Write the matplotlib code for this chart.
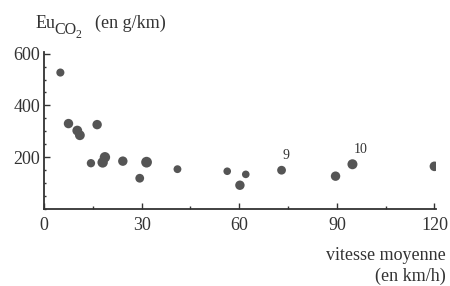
import matplotlib.pyplot as plt
from matplotlib.ticker import MultipleLocator

# --- Data ---
vitesse = [5, 7.5, 10.2, 11, 16.3, 14.4, 18, 18.7, 24.2, 31.5, 29.4, 41,
           56.3, 60.2, 62, 73, 89.6, 94.8, 120]
emission = [527, 330, 303, 285, 326, 177, 180, 200, 185, 181, 119, 154,
            146, 92, 134, 150, 127, 173, 165]
tailles = [34, 46, 50, 50, 46, 36, 56, 56, 46, 60, 40, 32,
           30, 46, 30, 40, 46, 52, 48]
etiquettes = {"9": (73, 150), "10": (94.8, 173)}

GRIS = "#555555"
TEXTE = "#333333"
FS = 13
W, H = 450, 286


def px(x, y):
    # pixel coords (origin top-left) -> figure fraction
    return x / W, 1 - y / H


plt.rcParams['font.family'] = ['Liberation Serif', 'DejaVu Serif']

fig = plt.figure(figsize=(4.5, 2.86), dpi=100)
ax = fig.add_axes([0.098, 0.269, 0.871, 0.548])

ax.scatter(vitesse, emission, s=tailles, color=GRIS, edgecolors='none', zorder=3)
for txt, (x, y) in etiquettes.items():
    ax.annotate(txt, (x, y), xytext=(1, 6), textcoords='offset points',
                fontsize=10, color=TEXTE, ha='left', va='bottom')

ax.set_xlim(0, 120.5)
ax.set_ylim(0, 605)
ax.xaxis.set_major_locator(MultipleLocator(30))
ax.xaxis.set_minor_locator(MultipleLocator(15))
ax.yaxis.set_minor_locator(MultipleLocator(50))
ax.set_yticks([200, 400, 600])

for side in ('top', 'right'):
    ax.spines[side].set_visible(False)
for side in ('left', 'bottom'):
    ax.spines[side].set_linewidth(1.3)
    ax.spines[side].set_color(TEXTE)

ax.tick_params(which='both', direction='in', colors=TEXTE, labelsize=FS, width=1)
ax.tick_params(which='major', length=4, pad=6)
ax.tick_params(which='minor', length=2.5)
ax.tick_params(axis='y', which='minor', length=1.5)
ax.tick_params(axis='y', which='major', pad=3)

# titre de l'axe y : Eu, indice CO2, puis unité
fig.text(*px(36, 28), "Eu", fontsize=FS, color=TEXTE, ha='left', va='baseline')
fig.text(*px(54, 34), "CO", fontsize=11.5, color=TEXTE, ha='left', va='baseline')
fig.text(*px(76, 38), "2", fontsize=8.5, color=TEXTE, ha='left', va='baseline')
fig.text(*px(95, 28), "(en g/km)", fontsize=FS, color=TEXTE,
         ha='left', va='baseline')

fig.text(*px(446, 260), "vitesse moyenne", fontsize=FS, color=TEXTE,
         ha='right', va='baseline')
fig.text(*px(446, 281), "(en km/h)", fontsize=FS, color=TEXTE,
         ha='right', va='baseline')

fig.savefig("out.png", dpi=100)
